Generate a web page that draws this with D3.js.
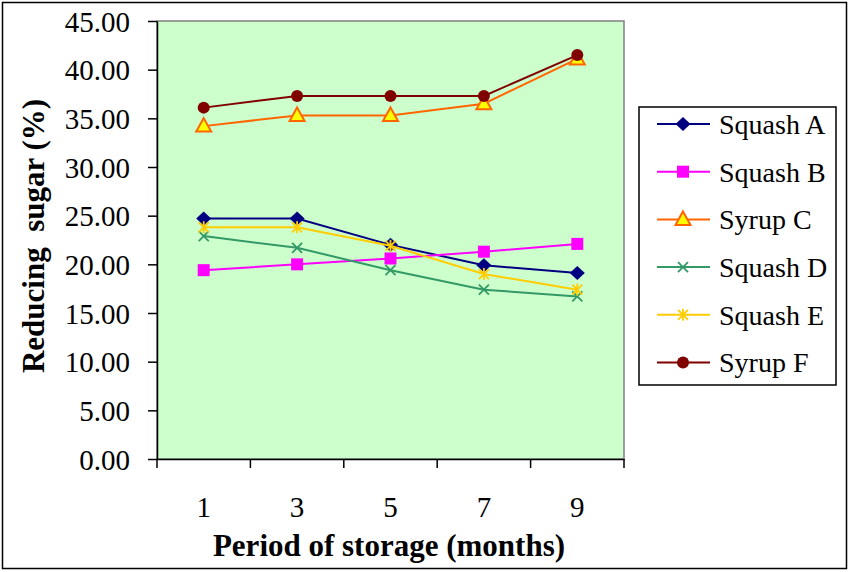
<!DOCTYPE html>
<html>
<head>
<meta charset="utf-8">
<style>
  body { margin: 0; background: #fff; }
  svg text { font-family: "Liberation Serif", "Times New Roman", Times, serif; fill: #000; }
  .axis path, .axis line { stroke: #000; stroke-width: 1.5; }
</style>
</head>
<body>
<svg width="850" height="572"></svg>
<script src="https://cdn.jsdelivr.net/npm/d3@7"></script>
<script>
// data
var months = ["1", "3", "5", "7", "9"];
var squashA = [24.7, 24.7, 22.0, 19.9, 19.1];
var squashB = [19.4, 20.0, 20.6, 21.3, 22.1];
var syrupC  = [34.2, 35.3, 35.3, 36.5, 41.1];
var squashD = [22.9, 21.7, 19.4, 17.4, 16.7];
var squashE = [23.8, 23.8, 21.9, 19.0, 17.4];
var syrupF  = [36.1, 37.3, 37.3, 37.3, 41.5];
var yTicks = [0, 5, 10, 15, 20, 25, 30, 35, 40, 45];

var series = [
  {name: "Squash A", values: squashA, color: "#000080", marker: "diamond"},
  {name: "Squash B", values: squashB, color: "#FF00FF", marker: "square"},
  {name: "Syrup C",  values: syrupC,  color: "#FF6600", marker: "triangle"},
  {name: "Squash D", values: squashD, color: "#339966", marker: "x"},
  {name: "Squash E", values: squashE, color: "#FFCC00", marker: "star"},
  {name: "Syrup F",  values: syrupF,  color: "#800000", marker: "circle"}
];

var serif = "'Liberation Serif', 'Times New Roman', serif";
var svg = d3.select("svg");

// outer frame
svg.append("rect")
  .attr("x", 2.5).attr("y", 2.5).attr("width", 844).attr("height", 566)
  .attr("fill", "#fff").attr("stroke", "#000").attr("stroke-width", 1.5);

var plotL = 157, plotR = 624, plotT = 21, plotB = 459;

var x = d3.scaleBand().domain(months).range([plotL, plotR]);
var y = d3.scaleLinear().domain([0, 45]).range([plotB, plotT]);

// plot area
svg.append("rect")
  .attr("x", plotL).attr("y", plotT)
  .attr("width", plotR - plotL).attr("height", plotB - plotT)
  .attr("fill", "#CCFFCC").attr("stroke", "#808080").attr("stroke-width", 1.5);

// y axis
var gy = svg.append("g").attr("class", "axis")
  .attr("transform", "translate(" + plotL + ",0)")
  .call(d3.axisLeft(y).tickValues(yTicks).tickSize(9).tickSizeOuter(0)
    .tickFormat(d3.format(".2f")));
gy.attr("font-family", serif).attr("font-size", 29);
gy.selectAll("text").attr("x", -27).attr("dy", "0.35em");

// x axis: ticks at category boundaries
var gx = svg.append("g").attr("class", "axis")
  .attr("transform", "translate(0," + plotB + ")")
  .call(d3.axisBottom(x).tickSize(0).tickSizeOuter(0));
gx.attr("font-family", serif).attr("font-size", 29);
gx.selectAll("text").attr("y", 58).attr("dy", null);
var bounds = months.map(function(m) { return x(m); }).concat([plotR]);
gx.selectAll(".bound").data(bounds).enter().append("line")
  .attr("class", "bound")
  .attr("x1", function(d) { return d; }).attr("x2", function(d) { return d; })
  .attr("y1", 0).attr("y2", 9)
  .attr("stroke", "#000").attr("stroke-width", 1.5);

// axis titles
svg.append("text")
  .attr("x", 389).attr("y", 556)
  .attr("text-anchor", "middle")
  .style("font-size", "31px").style("font-weight", "bold")
  .text("Period of storage (months)");

svg.append("text")
  .attr("transform", "translate(44,236) rotate(-90)")
  .attr("text-anchor", "middle")
  .style("font-size", "31px").style("font-weight", "bold")
  .style("white-space", "pre")
  .text("Reducing  sugar (%)");

function cx(i) { return x(months[i]) + x.bandwidth() / 2; }

function drawMarker(g, s, px, py) {
  var c = s.color;
  if (s.marker === "diamond") {
    g.append("path").attr("d", "M0,-7L7.5,0L0,7L-7.5,0Z")
      .attr("transform", "translate(" + px + "," + py + ")")
      .attr("fill", c);
  } else if (s.marker === "square") {
    g.append("rect").attr("x", px - 6).attr("y", py - 6)
      .attr("width", 12).attr("height", 12).attr("fill", c);
  } else if (s.marker === "triangle") {
    g.append("path").attr("d", "M0,-8L7.5,5.5L-7.5,5.5Z")
      .attr("transform", "translate(" + px + "," + py + ")")
      .attr("fill", "#FFFF00").attr("stroke", c).attr("stroke-width", 2);
  } else if (s.marker === "x") {
    g.append("path").attr("d", "M-5,-5L5,5M-5,5L5,-5")
      .attr("transform", "translate(" + px + "," + py + ")")
      .attr("stroke", c).attr("stroke-width", 1.8);
  } else if (s.marker === "star") {
    g.append("path").attr("d", "M-5,-5L5,5M-5,5L5,-5M0,-6L0,6")
      .attr("transform", "translate(" + px + "," + py + ")")
      .attr("stroke", c).attr("stroke-width", 1.8);
  } else {
    g.append("circle").attr("cx", px).attr("cy", py).attr("r", 6).attr("fill", c);
  }
}

var line = d3.line()
  .x(function(d, i) { return cx(i); })
  .y(function(d) { return y(d); });

series.forEach(function(s) {
  var g = svg.append("g");
  g.append("path").datum(s.values)
    .attr("d", line).attr("fill", "none")
    .attr("stroke", s.color).attr("stroke-width", 2);
  s.values.forEach(function(v, i) { drawMarker(g, s, cx(i), y(v)); });
});

// legend
svg.append("rect")
  .attr("x", 639).attr("y", 107).attr("width", 197).attr("height", 278)
  .attr("fill", "#fff").attr("stroke", "#000").attr("stroke-width", 1.5);

var legend = svg.selectAll(".leg").data(series).enter().append("g")
  .attr("class", "leg")
  .attr("transform", function(d, i) { return "translate(0," + (124 + i * 47.7) + ")"; });
legend.append("line")
  .attr("x1", 657).attr("x2", 710).attr("y1", 0).attr("y2", 0)
  .attr("stroke", function(d) { return d.color; }).attr("stroke-width", 2);
legend.each(function(d) { drawMarker(d3.select(this), d, 683, 0); });
legend.append("text")
  .attr("x", 719).attr("y", 0).attr("dy", "0.35em")
  .style("font-size", "28px")
  .text(function(d) { return d.name; });
</script>
</body>
</html>
